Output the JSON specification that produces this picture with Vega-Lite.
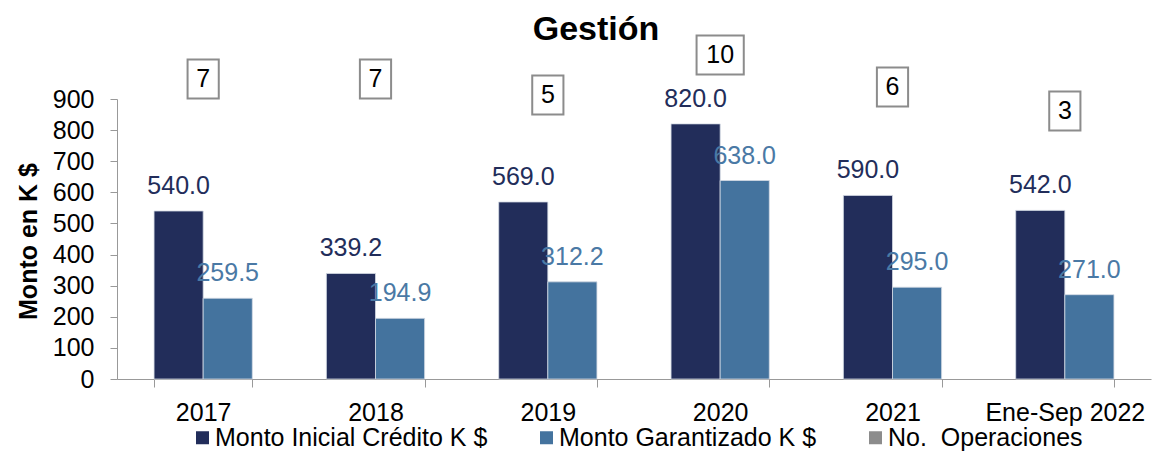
{
  "$schema": "https://vega.github.io/schema/vega-lite/v6.json",
  "autosize": {"type": "none"},
  "width": 1034,
  "height": 280,
  "padding": {"left": 117, "top": 99, "right": 3, "bottom": 72},
  "config": {"font": "Liberation Sans", "view": {"stroke": null}},
  "title": {"text": "Gestión", "fontSize": 34, "fontWeight": "bold", "color": "#000000", "anchor": "middle", "frame": "group", "dx": -38, "offset": -15},
  "datasets": {
    "montos": [
      {"periodo": "2017", "serie": "Monto Inicial Crédito K $", "monto": 540.0},
      {"periodo": "2017", "serie": "Monto Garantizado K $", "monto": 259.5},
      {"periodo": "2018", "serie": "Monto Inicial Crédito K $", "monto": 339.2},
      {"periodo": "2018", "serie": "Monto Garantizado K $", "monto": 194.9},
      {"periodo": "2019", "serie": "Monto Inicial Crédito K $", "monto": 569.0},
      {"periodo": "2019", "serie": "Monto Garantizado K $", "monto": 312.2},
      {"periodo": "2020", "serie": "Monto Inicial Crédito K $", "monto": 820.0},
      {"periodo": "2020", "serie": "Monto Garantizado K $", "monto": 638.0},
      {"periodo": "2021", "serie": "Monto Inicial Crédito K $", "monto": 590.0},
      {"periodo": "2021", "serie": "Monto Garantizado K $", "monto": 295.0},
      {"periodo": "Ene-Sep 2022", "serie": "Monto Inicial Crédito K $", "monto": 542.0},
      {"periodo": "Ene-Sep 2022", "serie": "Monto Garantizado K $", "monto": 271.0}
    ],
    "ops": [
      {"periodo": "2017", "ops": 7},
      {"periodo": "2018", "ops": 7},
      {"periodo": "2019", "ops": 5},
      {"periodo": "2020", "ops": 10},
      {"periodo": "2021", "ops": 6},
      {"periodo": "Ene-Sep 2022", "ops": 3}
    ]
  },
  "layer": [
    {
      "data": {"name": "montos"},
      "layer": [
        {
          "mark": {"type": "bar", "stroke": "#d3d9e3", "strokeWidth": 0.8},
          "encoding": {
            "x": {"field": "periodo", "type": "nominal", "sort": ["2017", "2018", "2019", "2020", "2021", "Ene-Sep 2022"],
                  "scale": {"paddingInner": 0.43, "paddingOuter": 0.215},
                  "axis": {"title": null, "labelFontSize": 25, "labelColor": "#000000", "labelAngle": 0, "labelPadding": 13, "tickBand": "extent", "tickSize": 8, "tickColor": "#999999", "domainColor": "#999999", "labelLimit": 300, "labelOverlap": false}},
            "xOffset": {"field": "serie", "type": "nominal", "scale": {"domain": ["Monto Inicial Crédito K $", "Monto Garantizado K $"]}},
            "y": {"field": "monto", "type": "quantitative", "scale": {"domain": [0, 900], "nice": false},
                  "axis": {"title": "Monto en K $", "titleFontSize": 25, "titleFontWeight": "bold", "titleColor": "#000000", "titleX": -89, "titleY": 142, "titleBaseline": "middle",
                           "values": [0, 100, 200, 300, 400, 500, 600, 700, 800, 900], "tickCount": 10, "labelOverlap": false, "labelFontSize": 25, "labelColor": "#000000", "labelPadding": 16, "tickSize": 7, "tickColor": "#999999", "domainColor": "#999999", "grid": false}},
            "color": {"field": "serie", "type": "nominal",
                      "scale": {"domain": ["Monto Inicial Crédito K $", "Monto Garantizado K $", "No.\u00a0 Operaciones"], "range": ["#222d5a", "#44739e", "#8c8c8c"]},
                      "legend": {"orient": "none", "legendX": 73, "legendY": 326, "direction": "horizontal", "title": null, "symbolType": "square", "symbolSize": 169, "symbolStrokeWidth": 0, "labelFontSize": 25, "labelColor": "#000000", "labelLimit": 400, "columnPadding": 46, "labelOffset": 0}}
          }
        },
        {
          "mark": {"type": "text", "baseline": "alphabetic", "dy": -17, "fontSize": 25},
          "encoding": {
            "x": {"field": "periodo", "type": "nominal", "sort": ["2017", "2018", "2019", "2020", "2021", "Ene-Sep 2022"]},
            "xOffset": {"field": "serie", "type": "nominal", "scale": {"domain": ["Monto Inicial Crédito K $", "Monto Garantizado K $"]}},
            "y": {"field": "monto", "type": "quantitative", "scale": {"domain": [0, 900], "nice": false},
                  "axis": {"title": "Monto en K $", "titleFontSize": 25, "titleFontWeight": "bold", "titleColor": "#000000", "titleX": -89, "titleY": 142, "titleBaseline": "middle",
                           "values": [0, 100, 200, 300, 400, 500, 600, 700, 800, 900], "tickCount": 10, "labelOverlap": false, "labelFontSize": 25, "labelColor": "#000000", "labelPadding": 16, "tickSize": 7, "tickColor": "#999999", "domainColor": "#999999", "grid": false}},
            "text": {"field": "monto", "type": "quantitative", "format": ".1f"},
            "color": {"condition": {"test": "datum.serie === 'Monto Inicial Crédito K $'", "value": "#222d5a"}, "value": "#4a79a5"}
          }
        }
      ]
    },
    {
      "data": {"name": "ops"},
      "layer": [
        {
          "mark": {"type": "point", "filled": true, "fill": "#ffffff", "stroke": "#8c8c8c", "strokeWidth": 2, "size": 1600, "opacity": 1},
          "encoding": {
            "x": {"field": "periodo", "type": "nominal", "sort": ["2017", "2018", "2019", "2020", "2021", "Ene-Sep 2022"]},
            "y": {"field": "ops", "type": "quantitative", "scale": {"domain": [-30.5, 4.5], "nice": false, "zero": false}, "axis": null},
            "shape": {"condition": {"test": "datum.ops >= 10", "value": "M-1.18,-0.975H1.18V0.975H-1.18Z"}, "value": "M-0.78,-0.975H0.78V0.975H-0.78Z"}
          }
        },
        {
          "mark": {"type": "text", "baseline": "middle", "fontSize": 25, "color": "#000000"},
          "encoding": {
            "x": {"field": "periodo", "type": "nominal", "sort": ["2017", "2018", "2019", "2020", "2021", "Ene-Sep 2022"]},
            "y": {"field": "ops", "type": "quantitative", "scale": {"domain": [-30.5, 4.5], "nice": false, "zero": false}, "axis": null},
            "text": {"field": "ops", "type": "quantitative"}
          }
        }
      ]
    }
  ],
  "resolve": {"scale": {"y": "independent"}}
}
